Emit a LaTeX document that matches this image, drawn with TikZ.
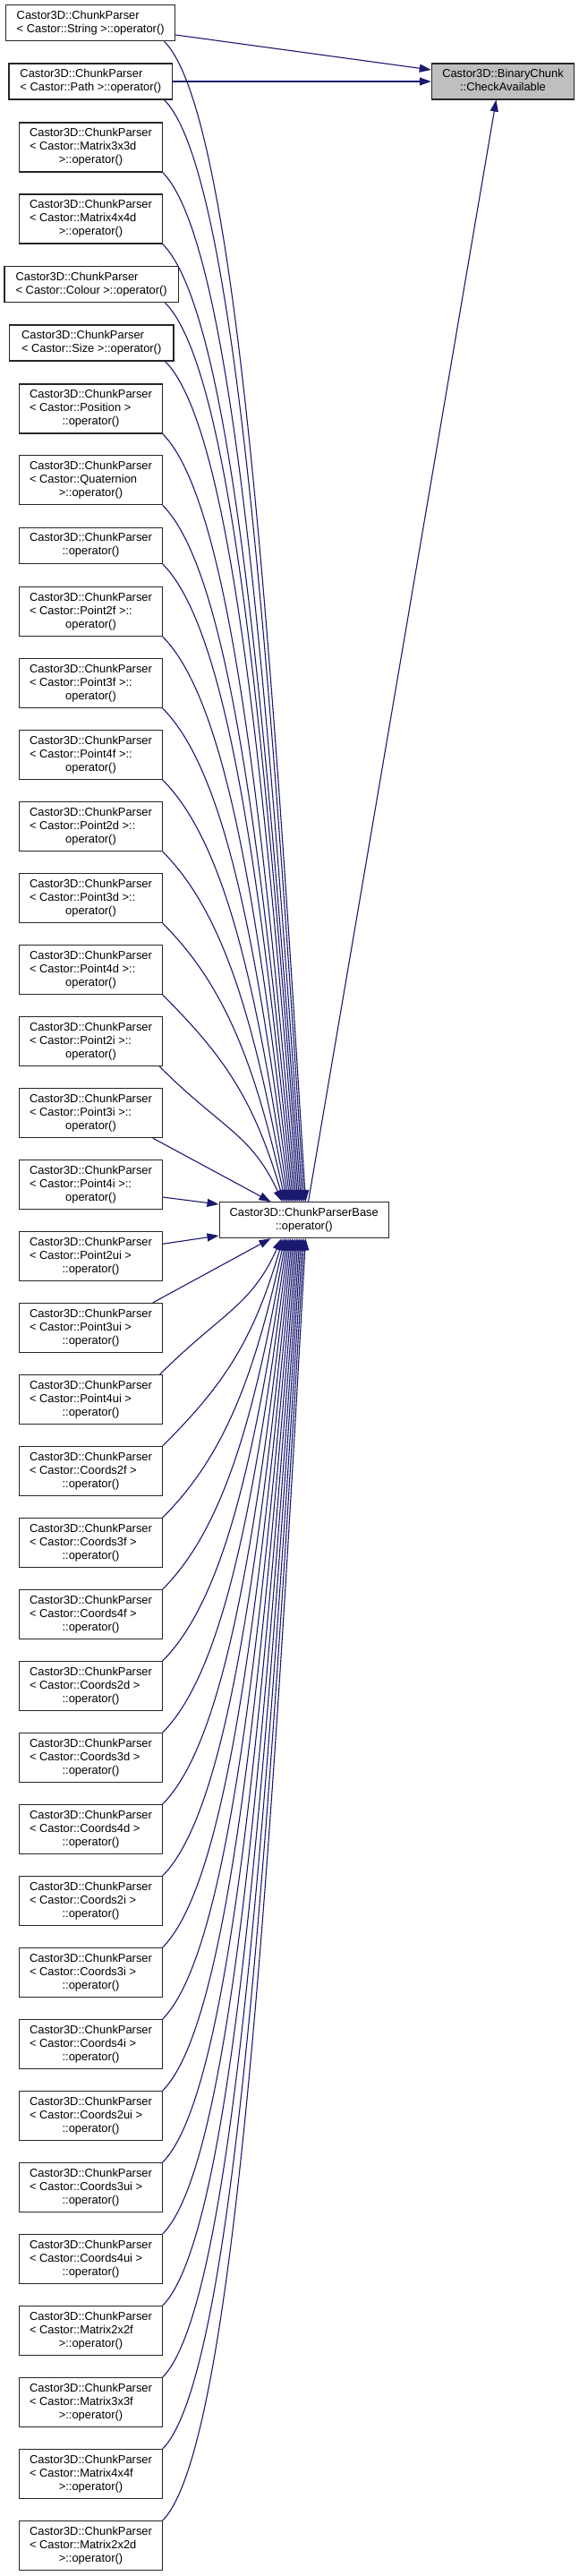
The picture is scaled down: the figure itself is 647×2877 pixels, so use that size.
\documentclass[tikz,border=0pt]{standalone}
\usepackage{fontspec}
\setmainfont{Liberation Sans}
\usetikzlibrary{arrows.meta,calc}
\definecolor{edgec}{HTML}{191970}
\definecolor{tgtfill}{HTML}{BFBFBF}
\newcommand\lbl[2]{\begin{tabular}{@{}l@{}}#1\\\multicolumn{1}{@{}c@{}}{#2}\end{tabular}}
\newcommand\upedge[3]{%
  \draw[edge] let \p1=([xshift=#2]#1.south east), \p2=([xshift=#3]base.north west),
    \n1={\x2-\x1}, \n2={\y1-\y2} in
    (\p1) .. controls ({\x1+0.5*\n1},{\y1-0.5*\n1}) and ({\x2-0.25*\n1},{\y2+0.5*\n2}) .. (\p2);}
\newcommand\lowedge[3]{%
  \draw[edge] let \p1=([xshift=#2]#1.north east), \p2=([xshift=#3]base.south west),
    \n1={\x2-\x1}, \n2={\y2-\y1} in
    (\p1) .. controls ({\x1+0.5*\n1},{\y1+0.5*\n1}) and ({\x2-0.25*\n1},{\y2-0.5*\n2}) .. (\p2);}
\begin{document}
\begin{tikzpicture}[x=1pt,y=-1pt,
  box/.style={draw=black!85, line width=1.1pt, fill=white, inner sep=0pt, rectangle,
    font=\fontsize{12.9}{15}\selectfont},
  b2/.style={box, minimum height=40pt, minimum width=#1},
  b3/.style={box, minimum height=55pt, minimum width=159.3pt},
  edge/.style={draw=edgec, line width=1.1pt, -{Triangle[length=13pt,width=9pt]}, fill=none},
  ]
\useasboundingbox (0,0) rectangle (647,2877);
\fill[white] (0,0) rectangle (647,2877);
% target and base
\node[box, fill=tgtfill, minimum width=159.4pt, minimum height=40pt] (target) at (562,91)
  {\lbl{Castor3D::BinaryChunk}{::CheckAvailable}};
\node[box, minimum width=189.3pt, minimum height=40pt] (base) at (339.7,1362.7)
  {\lbl{Castor3D::ChunkParserBase}{::operator()}};
% left nodes
\node[b2=189pt] (p1) at (101.2,25.7) {\lbl{Castor3D::ChunkParser}{< Castor::String >::operator()}};
\node[b2=182.7pt] (p2) at (101.35,91) {\lbl{Castor3D::ChunkParser}{< Castor::Path >::operator()}};
\node[b3] (p3) at (101.5,164.5) {\lbl{Castor3D::ChunkParser\\< Castor::Matrix3x3d}{>::operator()}};
\node[b3] (p4) at (101.5,244.5) {\lbl{Castor3D::ChunkParser\\< Castor::Matrix4x4d}{>::operator()}};
\node[b2=194.4pt] (p5) at (102.2,317.7) {\lbl{Castor3D::ChunkParser}{< Castor::Colour >::operator()}};
\node[b2=183.6pt] (p6) at (102.2,383) {\lbl{Castor3D::ChunkParser}{< Castor::Size >::operator()}};
\node[b3] (p7) at (101.5,456.5) {\lbl{Castor3D::ChunkParser\\< Castor::Position >}{::operator()}};
\node[b3] (p8) at (101.5,536.2) {\lbl{Castor3D::ChunkParser\\< Castor::Quaternion}{>::operator()}};
\node[b2=159.3pt] (p9) at (101.5,609.3) {\lbl{Castor3D::ChunkParser}{::operator()}};
\node[b3] (p10) at (101.5,683) {\lbl{Castor3D::ChunkParser\\< Castor::Point2f >::}{operator()}};
\node[b3] (p11) at (101.5,763) {\lbl{Castor3D::ChunkParser\\< Castor::Point3f >::}{operator()}};
\node[b3] (p12) at (101.5,843) {\lbl{Castor3D::ChunkParser\\< Castor::Point4f >::}{operator()}};
\node[b3] (p13) at (101.5,923) {\lbl{Castor3D::ChunkParser\\< Castor::Point2d >::}{operator()}};
\node[b3] (p14) at (101.5,1003) {\lbl{Castor3D::ChunkParser\\< Castor::Point3d >::}{operator()}};
\node[b3] (p15) at (101.5,1083) {\lbl{Castor3D::ChunkParser\\< Castor::Point4d >::}{operator()}};
\node[b3] (p16) at (101.5,1163) {\lbl{Castor3D::ChunkParser\\< Castor::Point2i >::}{operator()}};
\node[b3] (p17) at (101.5,1243) {\lbl{Castor3D::ChunkParser\\< Castor::Point3i >::}{operator()}};
\node[b3] (p18) at (101.5,1323) {\lbl{Castor3D::ChunkParser\\< Castor::Point4i >::}{operator()}};
\node[b3] (p19) at (101.5,1403) {\lbl{Castor3D::ChunkParser\\< Castor::Point2ui >}{::operator()}};
\node[b3] (p20) at (101.5,1483) {\lbl{Castor3D::ChunkParser\\< Castor::Point3ui >}{::operator()}};
\node[b3] (p21) at (101.5,1563) {\lbl{Castor3D::ChunkParser\\< Castor::Point4ui >}{::operator()}};
\node[b3] (p22) at (101.5,1643) {\lbl{Castor3D::ChunkParser\\< Castor::Coords2f >}{::operator()}};
\node[b3] (p23) at (101.5,1723) {\lbl{Castor3D::ChunkParser\\< Castor::Coords3f >}{::operator()}};
\node[b3] (p24) at (101.5,1803) {\lbl{Castor3D::ChunkParser\\< Castor::Coords4f >}{::operator()}};
\node[b3] (p25) at (101.5,1883) {\lbl{Castor3D::ChunkParser\\< Castor::Coords2d >}{::operator()}};
\node[b3] (p26) at (101.5,1963) {\lbl{Castor3D::ChunkParser\\< Castor::Coords3d >}{::operator()}};
\node[b3] (p27) at (101.5,2043) {\lbl{Castor3D::ChunkParser\\< Castor::Coords4d >}{::operator()}};
\node[b3] (p28) at (101.5,2123) {\lbl{Castor3D::ChunkParser\\< Castor::Coords2i >}{::operator()}};
\node[b3] (p29) at (101.5,2203) {\lbl{Castor3D::ChunkParser\\< Castor::Coords3i >}{::operator()}};
\node[b3] (p30) at (101.5,2283) {\lbl{Castor3D::ChunkParser\\< Castor::Coords4i >}{::operator()}};
\node[b3] (p31) at (101.5,2363) {\lbl{Castor3D::ChunkParser\\< Castor::Coords2ui >}{::operator()}};
\node[b3] (p32) at (101.5,2443) {\lbl{Castor3D::ChunkParser\\< Castor::Coords3ui >}{::operator()}};
\node[b3] (p33) at (101.5,2523) {\lbl{Castor3D::ChunkParser\\< Castor::Coords4ui >}{::operator()}};
\node[b3] (p34) at (101.5,2603) {\lbl{Castor3D::ChunkParser\\< Castor::Matrix2x2f}{>::operator()}};
\node[b3] (p35) at (101.5,2683) {\lbl{Castor3D::ChunkParser\\< Castor::Matrix3x3f}{>::operator()}};
\node[b3] (p36) at (101.5,2763) {\lbl{Castor3D::ChunkParser\\< Castor::Matrix4x4f}{>::operator()}};
\node[b3] (p37) at (101.5,2843) {\lbl{Castor3D::ChunkParser\\< Castor::Matrix2x2d}{>::operator()}};
% edges to target
\draw[edge] ([yshift=-13.3pt]p1.east) -- ([yshift=13pt]target.west);
\draw[edge] (p2.east) -- (target.west);
\draw[edge] ([xshift=100pt]base.north west) -- ([xshift=72.7pt]target.south west);
% upper curved edges
\upedge{p1}{-12.7pt}{97pt}
\upedge{p2}{-9.7pt}{95.3pt}
\upedge{p3}{0pt}{93.5pt}
\upedge{p4}{0pt}{91.8pt}
\upedge{p5}{-15.4pt}{90pt}
\upedge{p6}{-10pt}{88.3pt}
\upedge{p7}{0pt}{86.6pt}
\upedge{p8}{0pt}{84.9pt}
\upedge{p9}{0pt}{83.1pt}
\upedge{p10}{0pt}{81.4pt}
\upedge{p11}{0pt}{79.7pt}
\upedge{p12}{0pt}{77.9pt}
\upedge{p13}{0pt}{76.2pt}
\upedge{p14}{0pt}{74.5pt}
\upedge{p15}{0pt}{72.7pt}
\upedge{p16}{-3.5pt}{71pt}
% straight edges near base
\draw[edge] ([xshift=-11pt]p17.south east) -- ([xshift=58pt]base.north west);
\draw[edge] ([yshift=-14pt]p18.east) -- ([yshift=17.7pt]base.west);
\draw[edge] ([yshift=13.7pt]p19.east) -- ([yshift=-17.3pt]base.west);
\draw[edge] ([xshift=-11pt]p20.north east) -- ([xshift=58pt]base.south west);
% lower curved edges
\lowedge{p21}{-3pt}{70pt}
\lowedge{p22}{0pt}{71.7pt}
\lowedge{p23}{0pt}{73.4pt}
\lowedge{p24}{0pt}{75.1pt}
\lowedge{p25}{0pt}{76.7pt}
\lowedge{p26}{0pt}{78.4pt}
\lowedge{p27}{0pt}{80.1pt}
\lowedge{p28}{0pt}{81.8pt}
\lowedge{p29}{0pt}{83.5pt}
\lowedge{p30}{0pt}{85.2pt}
\lowedge{p31}{0pt}{86.9pt}
\lowedge{p32}{0pt}{88.6pt}
\lowedge{p33}{0pt}{90.3pt}
\lowedge{p34}{0pt}{91.9pt}
\lowedge{p35}{0pt}{93.6pt}
\lowedge{p36}{0pt}{95.3pt}
\lowedge{p37}{0pt}{97pt}
\end{tikzpicture}
\end{document}
